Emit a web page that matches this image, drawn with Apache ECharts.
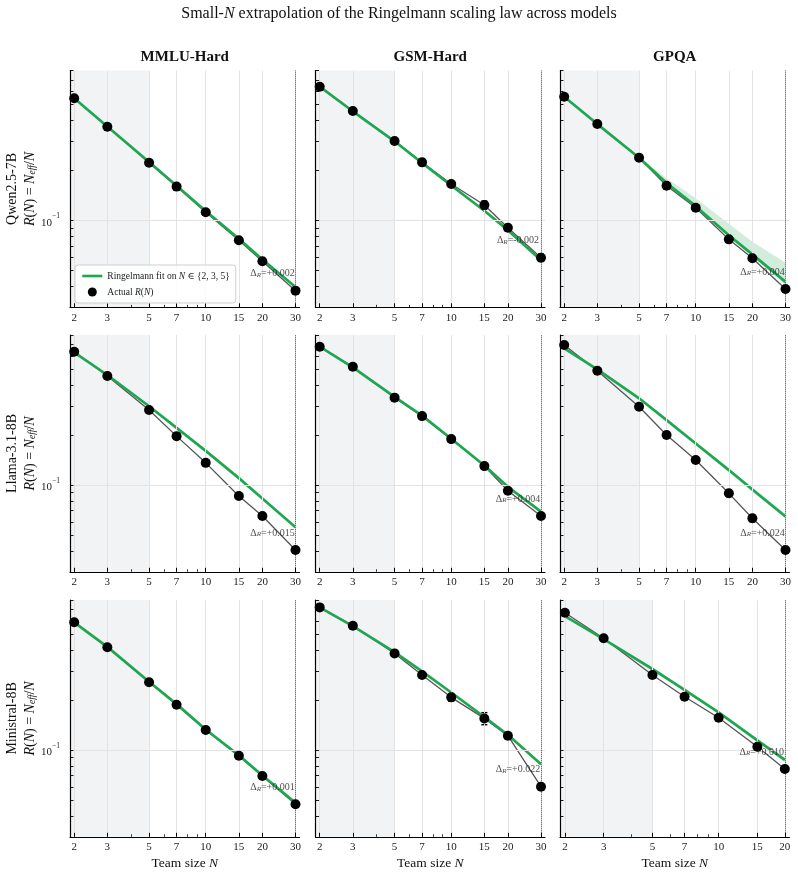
<!DOCTYPE html>
<html><head><meta charset="utf-8">
<script src="https://cdn.jsdelivr.net/npm/echarts@6/dist/echarts.min.js"></script>
<style>html,body{margin:0;padding:0;background:#fff}#c{width:798px;height:874px}</style>
</head><body><div id="c"></div><script>
// ---------- data ----------
const models = ['Qwen2.5-7B', 'Llama-3.1-8B', 'Ministral-8B'];
const benchmarks = ['MMLU-Hard', 'GSM-Hard', 'GPQA'];
const teamSizes = [2, 3, 5, 7, 10, 15, 20, 30];
const teamSizesShort = [2, 3, 5, 7, 10, 15, 20];
const xTickValues = [2, 3, 5, 7, 10, 15, 20, 30];
const xMinorTickValues = [4, 6, 8, 9];
const yTickValues = [0.1];
const yMinorTickValues = [0.03, 0.04, 0.05, 0.06, 0.07, 0.08, 0.09, 0.2, 0.3, 0.4, 0.5, 0.6, 0.7, 0.8];
const yRange = [0.03, 0.8];

const qwenMmluActual = [0.545, 0.367, 0.223, 0.160, 0.112, 0.0760, 0.0568, 0.0378];
const qwenMmluErr    = [0.004, 0.003, 0.002, 0.002, 0.001, 0.001, 0.001, 0.001];
const qwenMmluFit    = [0.545, 0.368, 0.225, 0.162, 0.114, 0.0775, 0.0582, 0.0398];
const qwenGsmActual  = [0.640, 0.457, 0.301, 0.224, 0.166, 0.124, 0.0905, 0.0597];
const qwenGsmErr     = [0.005, 0.004, 0.003, 0.003, 0.003, 0.007, 0.004, 0.003];
const qwenGsmFit     = [0.640, 0.455, 0.300, 0.222, 0.1625, 0.1145, 0.0875, 0.0577];
const qwenGpqaActual = [0.557, 0.381, 0.239, 0.162, 0.1194, 0.0770, 0.0592, 0.0387];
const qwenGpqaErr    = [0.02, 0.008, 0.007, 0.004, 0.003, 0.002, 0.002, 0.001];
const qwenGpqaFit    = [0.557, 0.381, 0.239, 0.168, 0.122, 0.0815, 0.0625, 0.0427];
const qwenGpqaBandHi = [0.557, 0.383, 0.241, 0.180, 0.136, 0.0955, 0.0746, 0.0557];
const qwenGpqaBandLo = [0.557, 0.380, 0.237, 0.164, 0.118, 0.079, 0.060, 0.0410];

const llamaMmluActual = [0.635, 0.454, 0.283, 0.197, 0.136, 0.0858, 0.0651, 0.0406];
const llamaMmluErr    = [0.005, 0.004, 0.003, 0.002, 0.002, 0.001, 0.001, 0.001];
const llamaMmluFit    = [0.630, 0.460, 0.298, 0.221, 0.1605, 0.110, 0.083, 0.0556];
const llamaGsmActual  = [0.681, 0.516, 0.336, 0.260, 0.189, 0.130, 0.0924, 0.0651];
const llamaGsmErr     = [0.005, 0.004, 0.003, 0.003, 0.002, 0.002, 0.003, 0.003];
const llamaGsmFit     = [0.681, 0.512, 0.340, 0.262, 0.190, 0.131, 0.0975, 0.0691];
const llamaGpqaActual = [0.697, 0.488, 0.296, 0.200, 0.1415, 0.0891, 0.0630, 0.0406];
const llamaGpqaErr    = [0.02, 0.015, 0.012, 0.009, 0.005, 0.004, 0.003, 0.001];
const llamaGpqaFit    = [0.666, 0.498, 0.333, 0.246, 0.178, 0.123, 0.094, 0.0646];
const llamaGpqaBandHi = [0.672, 0.503, 0.338, 0.251, 0.182, 0.126, 0.097, 0.067];
const llamaGpqaBandLo = [0.660, 0.493, 0.328, 0.241, 0.174, 0.120, 0.091, 0.0628];

const ministralMmluActual = [0.588, 0.416, 0.2557, 0.1875, 0.132, 0.0924, 0.0697, 0.0471];
const ministralMmluErr    = [0.004, 0.003, 0.002, 0.002, 0.001, 0.001, 0.001, 0.001];
const ministralMmluFit    = [0.588, 0.418, 0.258, 0.189, 0.133, 0.0928, 0.0702, 0.0481];
const ministralGsmActual  = [0.723, 0.561, 0.382, 0.283, 0.2076, 0.155, 0.122, 0.0601];
const ministralGsmErr     = [0.006, 0.006, 0.006, 0.008, 0.011, 0.013, 0.004, 0.002];
const ministralGsmFit     = [0.723, 0.558, 0.389, 0.298, 0.222, 0.158, 0.1235, 0.082];
const ministralGpqaActual = [0.672, 0.471, 0.283, 0.2095, 0.1565, 0.1047, 0.0768];
const ministralGpqaErr    = [0.02, 0.017, 0.011, 0.007, 0.006, 0.004, 0.003];
const ministralGpqaFit    = [0.641, 0.466, 0.3076, 0.230, 0.1687, 0.1144, 0.0871];
const ministralGpqaBandHi = [0.647, 0.471, 0.312, 0.235, 0.172, 0.117, 0.090];
const ministralGpqaBandLo = [0.635, 0.461, 0.303, 0.225, 0.165, 0.112, 0.0845];

const deltaLabels = ['+0.002', '-0.002', '+0.004', '+0.015', '+0.004', '+0.024', '+0.001', '+0.022', '+0.010'];

const panels = [
  {n: teamSizes, actual: qwenMmluActual, err: qwenMmluErr, fit: qwenMmluFit},
  {n: teamSizes, actual: qwenGsmActual, err: qwenGsmErr, fit: qwenGsmFit},
  {n: teamSizes, actual: qwenGpqaActual, err: qwenGpqaErr, fit: qwenGpqaFit, hi: qwenGpqaBandHi, lo: qwenGpqaBandLo},
  {n: teamSizes, actual: llamaMmluActual, err: llamaMmluErr, fit: llamaMmluFit},
  {n: teamSizes, actual: llamaGsmActual, err: llamaGsmErr, fit: llamaGsmFit},
  {n: teamSizes, actual: llamaGpqaActual, err: llamaGpqaErr, fit: llamaGpqaFit, hi: llamaGpqaBandHi, lo: llamaGpqaBandLo},
  {n: teamSizes, actual: ministralMmluActual, err: ministralMmluErr, fit: ministralMmluFit},
  {n: teamSizes, actual: ministralGsmActual, err: ministralGsmErr, fit: ministralGsmFit},
  {n: teamSizesShort, actual: ministralGpqaActual, err: ministralGpqaErr, fit: ministralGpqaFit, hi: ministralGpqaBandHi, lo: ministralGpqaBandLo}
];

// ---------- layout / style ----------
const SERIF = '"Liberation Serif","DejaVu Serif",serif';
const GREEN = '#1fa650';
const FIT_NAME = 'Ringelmann fit';
const ACT_NAME = 'Actual';
const gridLeft = [70, 315.5, 560];
const gridTop = [70.6, 335.1, 600.1];
const gridW = 229.5, gridH = 236.7;
const xMin = 1.9;

const grid = [], xAxis = [], yAxis = [], series = [], graphic = [];

panels.forEach((p, i) => {
  const r = Math.floor(i / 3), c = i % 3;
  const nMax = p.n[p.n.length - 1];
  const xMax = nMax * 1.05;
  grid.push({left: gridLeft[c], top: gridTop[r], width: gridW, height: gridH});
  const majorX = xTickValues.filter(v => v <= nMax);
  xAxis.push({
    type: 'log', gridIndex: i, min: xMin, max: xMax, position: 'bottom', z: 10,
    axisLine: {show: true, onZero: false, lineStyle: {color: '#000', width: 1.2}},
    axisTick: {show: true, inside: true, length: 4, customValues: majorX, lineStyle: {color: '#000', width: 1}},
    axisLabel: {show: true, customValues: majorX, margin: 5, fontFamily: SERIF, fontSize: 11, color: '#222',
      formatter: v => String(Math.round(v))},
    splitLine: {show: false}
  });
  xAxis.push({
    type: 'log', gridIndex: i, min: xMin, max: xMax, position: 'bottom', z: 10,
    axisLine: {show: false, onZero: false},
    axisTick: {show: true, inside: true, length: 2.5, customValues: xMinorTickValues, lineStyle: {color: '#000', width: 0.8}},
    axisLabel: {show: false}, splitLine: {show: false}
  });
  yAxis.push({
    type: 'log', gridIndex: i, min: yRange[0], max: yRange[1], position: 'left', z: 10,
    axisLine: {show: true, onZero: false, lineStyle: {color: '#000', width: 1.2}},
    axisTick: {show: true, inside: true, length: 3.5, customValues: yMinorTickValues.concat(yTickValues), lineStyle: {color: '#000', width: 0.9}},
    axisLabel: {show: c === 0, customValues: yTickValues, margin: 10, fontFamily: SERIF, color: '#222',
      formatter: () => '{b|10}{s|\u22121}',
      rich: {b: {fontSize: 11, fontFamily: SERIF, color: '#222', lineHeight: 16, verticalAlign: 'bottom'},
             s: {fontSize: 7.5, fontFamily: SERIF, color: '#222', lineHeight: 16, verticalAlign: 'top'}}},
    splitLine: {show: false}
  });
  const xi = 2 * i, yi = i;
  const actualPts = p.n.map((x, k) => [x, p.actual[k]]);
  const fitPts = p.n.map((x, k) => [x, p.fit[k]]);
  series.push({
    type: 'line', xAxisIndex: xi, yAxisIndex: yi, data: actualPts, silent: true, z: 0,
    symbol: 'none', lineStyle: {opacity: 0},
    markArea: {silent: true, itemStyle: {color: '#f2f3f5'}, data: [[{xAxis: xMin}, {xAxis: 5}]]},
    markLine: {silent: true, symbol: ['none', 'none'], label: {show: false}, animation: false,
      lineStyle: {color: '#e3e3e3', width: 1, type: 'solid'},
      data: majorX.map(v => ({xAxis: v})).concat(yTickValues.map(v => ({yAxis: v})))}
  });
  series.push({
    type: 'line', xAxisIndex: xi, yAxisIndex: yi, data: [], silent: true, z: 3,
    markLine: {silent: true, symbol: ['none', 'none'], label: {show: false}, animation: false,
      lineStyle: {color: '#555', width: 1, type: 'dotted'}, data: [{xAxis: nMax}]}
  });
  if (p.hi) {
    series.push({
      type: 'custom', xAxisIndex: xi, yAxisIndex: yi, z: 1, silent: true,
      data: [[p.n[0], p.fit[0]]], encode: {x: 0, y: 1},
      renderItem: (params, api) => {
        const pts = [];
        p.n.forEach((x, k) => pts.push(api.coord([x, p.hi[k]])));
        for (let k = p.n.length - 1; k >= 0; k--) pts.push(api.coord([p.n[k], p.lo[k]]));
        return {type: 'polygon', shape: {points: pts}, style: {fill: 'rgba(31,166,80,0.2)'}};
      }
    });
  }
  series.push({
    type: 'line', xAxisIndex: xi, yAxisIndex: yi, data: actualPts, z: 2, silent: true,
    symbol: 'none', lineStyle: {color: '#555', width: 1.3}
  });
  series.push({
    name: FIT_NAME, type: 'line', xAxisIndex: xi, yAxisIndex: yi, data: fitPts, z: 3, silent: true,
    symbol: 'none', showSymbol: false, lineStyle: {color: GREEN, width: 2.7}, itemStyle: {color: GREEN}
  });
  series.push({
    type: 'custom', xAxisIndex: xi, yAxisIndex: yi, z: 4, silent: true,
    data: p.n.map((x, k) => [x, p.actual[k], p.err[k]]), encode: {x: 0, y: 1},
    renderItem: (params, api) => {
      const x = api.value(0), y = api.value(1), e = api.value(2);
      const a = api.coord([x, y + e]), b = api.coord([x, y - e]);
      const st = {stroke: '#000', lineWidth: 1.4};
      return {type: 'group', children: [
        {type: 'line', shape: {x1: a[0], y1: a[1], x2: b[0], y2: b[1]}, style: st},
        {type: 'line', shape: {x1: a[0] - 3, y1: a[1], x2: a[0] + 3, y2: a[1]}, style: st},
        {type: 'line', shape: {x1: b[0] - 3, y1: b[1], x2: b[0] + 3, y2: b[1]}, style: st}
      ]};
    }
  });
  series.push({
    name: ACT_NAME, type: 'scatter', xAxisIndex: xi, yAxisIndex: yi, data: actualPts, z: 5, silent: true,
    symbol: 'circle', symbolSize: 10, itemStyle: {color: '#000', opacity: 1}
  });
  const last = p.n.length - 1;
  series.push({
    type: 'scatter', xAxisIndex: xi, yAxisIndex: yi, z: 6, silent: true, symbolSize: 1,
    itemStyle: {color: 'rgba(0,0,0,0)'},
    data: [[p.n[last], p.actual[last]]],
    label: {show: true, position: 'inside', offset: [-23, -19], align: 'center', verticalAlign: 'middle',
      formatter: '{d|\u0394}{r|R}{d|=' + deltaLabels[i] + '}',
      rich: {d: {fontFamily: SERIF, fontSize: 10, color: '#222', lineHeight: 14, verticalAlign: 'bottom'},
             r: {fontFamily: SERIF, fontSize: 7, fontStyle: 'italic', color: '#222', lineHeight: 10, verticalAlign: 'bottom'}}}
  });
});

graphic.push({type: 'text', x: 399, y: 14, style: {
  text: '{n|Small-}{i|N}{n| extrapolation of the Ringelmann scaling law across models}',
  align: 'center', verticalAlign: 'middle',
  rich: {n: {fontFamily: SERIF, fontSize: 16, fill: '#111'}, i: {fontFamily: SERIF, fontSize: 16, fontStyle: 'italic', fill: '#111'}}}});
benchmarks.forEach((b, c) => {
  graphic.push({type: 'text', x: gridLeft[c] + gridW / 2, y: 57, style: {
    text: b, align: 'center', verticalAlign: 'middle', font: 'bold 15px ' + SERIF, fill: '#111'}});
  graphic.push({type: 'text', x: gridLeft[c] + gridW / 2, y: 863, style: {
    text: '{n|Team size }{i|N}', align: 'center', verticalAlign: 'middle',
    rich: {n: {fontFamily: SERIF, fontSize: 13.5, fill: '#111'}, i: {fontFamily: SERIF, fontSize: 13.5, fontStyle: 'italic', fill: '#111'}}}});
});
models.forEach((m, r) => {
  const cy = gridTop[r] + gridH / 2;
  graphic.push({type: 'text', x: 12.5, y: cy, rotation: Math.PI / 2, style: {
    text: m, align: 'center', verticalAlign: 'middle', font: '14px ' + SERIF, fill: '#111'}});
  graphic.push({type: 'text', x: 28, y: cy, rotation: Math.PI / 2, style: {
    text: '{i|R}{n|(}{i|N}{n|) = }{i|N}{s|eff}{n|/}{i|N}', align: 'center', verticalAlign: 'middle',
    rich: {n: {fontFamily: SERIF, fontSize: 14, fill: '#111', lineHeight: 18, verticalAlign: 'bottom'},
           i: {fontFamily: SERIF, fontSize: 14, fontStyle: 'italic', fill: '#111', lineHeight: 18, verticalAlign: 'bottom'},
           s: {fontFamily: SERIF, fontSize: 9.5, fontStyle: 'italic', fill: '#111', lineHeight: 12, verticalAlign: 'bottom'}}}});
});

const chart = echarts.init(document.getElementById('c'), null, {renderer: 'canvas'});
chart.setOption({
  animation: false,
  backgroundColor: '#fff',
  grid, xAxis, yAxis, series, graphic,
  legend: {
    left: 75, top: 265, orient: 'vertical', selectedMode: false, z: 20,
    data: [
      {name: FIT_NAME, itemStyle: {color: 'rgba(0,0,0,0)', borderWidth: 0, opacity: 0}, lineStyle: {color: GREEN, width: 2.6}},
      {name: ACT_NAME, itemStyle: {color: '#000', opacity: 1}}
    ],
    itemWidth: 20, itemHeight: 9, itemGap: 6, padding: [6, 6],
    backgroundColor: 'rgba(255,255,255,0.85)', borderColor: '#cfcfcf', borderWidth: 1, borderRadius: 3,
    formatter: name => name === FIT_NAME
      ? '{n|Ringelmann fit on }{i|N}{n| \u2208 {2, 3, 5}}'
      : '{n|Actual }{i|R}{n|(}{i|N}{n|)}',
    textStyle: {fontFamily: SERIF, fontSize: 9.5, color: '#222',
      rich: {n: {fontFamily: SERIF, fontSize: 9.5, color: '#222'}, i: {fontFamily: SERIF, fontSize: 9.5, fontStyle: 'italic', color: '#222'}}}
  }
});
</script></body></html>
